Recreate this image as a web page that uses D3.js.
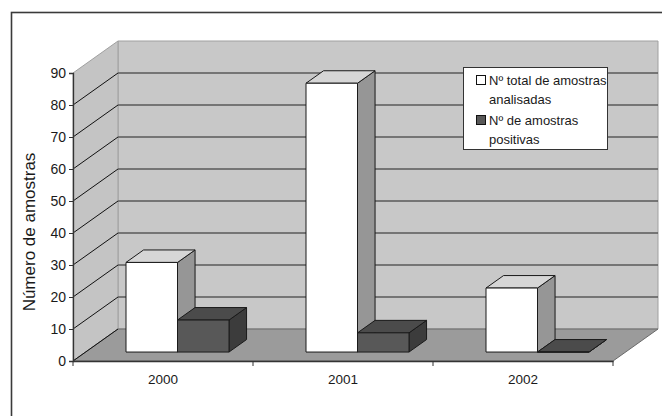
<!DOCTYPE html>
<html>
<head>
<meta charset="utf-8">
<script src="https://cdn.jsdelivr.net/npm/d3@7/dist/d3.min.js"></script>
<style>
html,body{margin:0;padding:0;background:#fff;}
svg{display:block;font-family:"Liberation Sans",Arial,sans-serif;}
</style>
</head>
<body>
<svg id="chart" width="662" height="416"></svg>
<script>
// ---- data ----
const categories = ["2000", "2001", "2002"];
const seriesNames = ["Nº total de amostras analisadas", "Nº de amostras positivas"];
const totalValues = [28, 84, 20];
const positiveValues = [10, 6, 0];
const yTicks = [0, 10, 20, 30, 40, 50, 60, 70, 80, 90];
const yTitle = "Número de amostras";

// ---- layout ----
const svg = d3.select("#chart");
const X0 = 73, X1 = 613, Y0 = 361, Y1 = 73;
const DX = 45, DY = 32;          // full depth offset
const Z0 = 0.28, Z1 = 0.67;      // bar depth band

const x = d3.scaleBand().domain(categories).range([X0, X1]);
const sub = d3.scaleBand().domain([0, 1]).range([40.4, 143.4]);
const y = d3.scaleLinear().domain([0, 90]).range([Y0, Y1]);

const proj = (px, v, z) => [px + z * DX, y(v) - z * DY];
const poly = pts => "M" + pts.map(p => p.join(",")).join("L") + "Z";

// outer frame
svg.append("rect").attr("x", 11.5).attr("y", 12.5).attr("width", 660).attr("height", 410)
  .attr("fill", "none").attr("stroke", "#3a3a3a").attr("stroke-width", 1.6);

// back wall
svg.append("path").attr("d", poly([proj(X0, 0, 1), proj(X1, 0, 1), proj(X1, 90, 1), proj(X0, 90, 1)]))
  .attr("fill", "#c8c8c8").attr("stroke", "#a0a0a0").attr("stroke-width", 1);
// left wall
svg.append("path").attr("d", poly([proj(X0, 0, 0), proj(X0, 0, 1), proj(X0, 90, 1), proj(X0, 90, 0)]))
  .attr("fill", "#c4c4c4").attr("stroke", "#a0a0a0").attr("stroke-width", 1);
// floor
svg.append("path").attr("d", poly([proj(X0, 0, 0), proj(X1, 0, 0), proj(X1, 0, 1), proj(X0, 0, 1)]))
  .attr("fill", "#9b9b9b").attr("stroke", "#6a6a6a").attr("stroke-width", 1);

// gridlines
const gridVals = yTicks.filter(v => v > 0 && v < 90);
svg.append("g").selectAll("line").data(gridVals).join("line")
  .attr("x1", v => proj(X0, v, 1)[0]).attr("y1", v => proj(X0, v, 1)[1])
  .attr("x2", v => proj(X1, v, 1)[0]).attr("y2", v => proj(X1, v, 1)[1])
  .attr("stroke", "#5a5a5a").attr("stroke-width", 1.5);
svg.append("g").selectAll("line").data(yTicks.filter(v => v < 90)).join("line")
  .attr("x1", v => proj(X0, v, 0)[0]).attr("y1", v => proj(X0, v, 0)[1])
  .attr("x2", v => proj(X0, v, 1)[0]).attr("y2", v => proj(X0, v, 1)[1])
  .attr("stroke", "#111").attr("stroke-width", 1);

// bars
const seriesData = [totalValues, positiveValues];
const faceColors = [
  {front: "#ffffff", side: "#969696", top: "#d6d6d6"},
  {front: "#585858", side: "#3c3c3c", top: "#4b4b4b"}
];
const barsG = svg.append("g");
categories.forEach((cat, i) => {
  seriesData.forEach((vals, s) => {
    const v = vals[i];
    const a = x(cat) + sub(s), b = a + sub.bandwidth();
    const c = faceColors[s];
    const g = barsG.append("g").attr("stroke", "#1a1a1a").attr("stroke-width", 1).attr("stroke-linejoin", "round");
    g.append("path").attr("d", poly([proj(b, 0, Z0), proj(b, 0, Z1), proj(b, v, Z1), proj(b, v, Z0)])).attr("fill", c.side);
    g.append("path").attr("d", poly([proj(a, v, Z0), proj(b, v, Z0), proj(b, v, Z1), proj(a, v, Z1)])).attr("fill", c.top);
    g.append("path").attr("d", poly([proj(a, 0, Z0), proj(b, 0, Z0), proj(b, v, Z0), proj(a, v, Z0)])).attr("fill", c.front);
  });
});

// y axis
const yAxis = svg.append("g").attr("transform", `translate(${X0},0)`)
  .call(d3.axisLeft(y).tickValues(yTicks).tickSize(4).tickPadding(3).tickFormat(d3.format("d")));
yAxis.select(".domain").attr("stroke", "#333").attr("stroke-width", 1.3);
yAxis.selectAll(".tick line").attr("stroke", "#333");
yAxis.selectAll("text").attr("font-size", 14).attr("fill", "#1a1a1a")
  .attr("font-family", "'Liberation Sans', Arial, sans-serif");

// x axis
const xAxis = svg.append("g").attr("transform", `translate(0,${Y0})`)
  .call(d3.axisBottom(x).tickSize(0).tickPadding(13));
xAxis.select(".domain").attr("stroke", "#333").attr("stroke-width", 1.3);
xAxis.selectAll("text").attr("font-size", 13.5).attr("fill", "#1a1a1a")
  .attr("font-family", "'Liberation Sans', Arial, sans-serif");
const bounds = categories.map(c => x(c)).concat([X1]);
xAxis.append("g").selectAll("line").data(bounds).join("line")
  .attr("x1", d => d).attr("x2", d => d).attr("y1", 0).attr("y2", 5).attr("stroke", "#333");

// y title
svg.append("text").attr("transform", "translate(35,232) rotate(-90)")
  .attr("text-anchor", "middle").attr("font-size", 17).attr("fill", "#1a1a1a")
  .text(yTitle);

// legend
const lg = svg.append("g");
lg.append("rect").attr("x", 463.5).attr("y", 67.5).attr("width", 144).attr("height", 82)
  .attr("fill", "#fff").attr("stroke", "#333").attr("stroke-width", 1);
const legendLines = [["Nº total de amostras", "analisadas"], ["Nº de amostras", "positivas"]];
const swY = [75, 115];
const baseY = [[85, 104], [125, 144]];
legendLines.forEach((lines, s) => {
  lg.append("rect").attr("x", 476.5).attr("y", swY[s] + 0.5).attr("width", 9).attr("height", 9)
    .attr("fill", faceColors[s].front).attr("stroke", "#111");
  lines.forEach((t, k) => {
    lg.append("text").attr("x", 489).attr("y", baseY[s][k]).attr("font-size", 13).attr("fill", "#1a1a1a").text(t);
  });
});
</script>
</body>
</html>
